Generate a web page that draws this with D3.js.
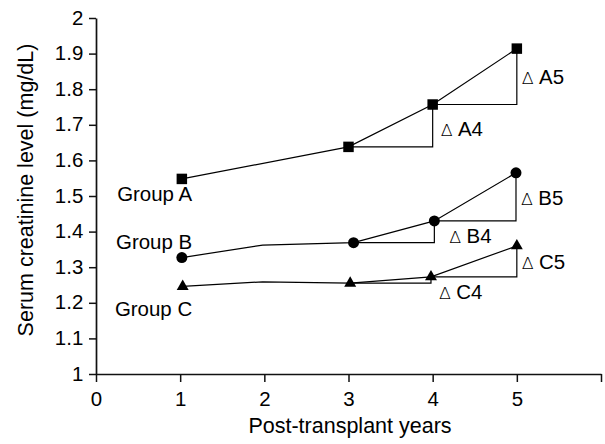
<!DOCTYPE html>
<html>
<head>
<meta charset="utf-8">
<script src="https://cdn.jsdelivr.net/npm/d3@7"></script>
<style>
  html, body { margin: 0; padding: 0; background: #fff; }
  svg { display: block; }
  text { font-family: "Liberation Sans", Arial, sans-serif; fill: #000; }
</style>
</head>
<body>
<script>
// Serum creatinine by post-transplant year, three groups
const years = [1, 2, 3, 4, 5];
const groupNames = ["Group A", "Group B", "Group C"];

// measured x position of each reading (years)
const xA = [1.02, 2, 3, 4, 5];
const xB = [1.02, 1.98, 3.06, 4.02, 4.99];
const xC = [1.03, 1.98, 3.02, 3.98, 5.0];

// mean serum creatinine (mg/dL); null where no reading is plotted
const valuesA = [1.548, null, 1.638, 1.757, 1.914];
const valuesB = [1.327, 1.362, 1.369, 1.430, 1.565];
const valuesC = [1.246, 1.259, 1.255, 1.273, 1.360];

// years that carry a marker
const markedYears = [1, 3, 4, 5];

// change labels for years 4 and 5
const deltaLabelsA = ["A4", "A5"];
const deltaLabelsB = ["B4", "B5"];
const deltaLabelsC = ["C4", "C5"];

const xTicks = [0, 1, 2, 3, 4, 5, 6];
const xTickLabels = ["0", "1", "2", "3", "4", "5", ""];
const yTicks = [1, 1.1, 1.2, 1.3, 1.4, 1.5, 1.6, 1.7, 1.8, 1.9, 2];
const yTickLabels = ["1", "1.1", "1.2", "1.3", "1.4", "1.5", "1.6", "1.7", "1.8", "1.9", "2"];

const W = 605, H = 444;
const svg = d3.select("body").append("svg").attr("width", W).attr("height", H);

const x = d3.scaleLinear().domain([0, 6]).range([96, 601]);
const y = d3.scaleLinear().domain([1, 2]).range([374, 18]);

const labelFont = 19.3;
const stretch = "scale(1.06,1)";

// axes
const yAxis = svg.append("g")
  .attr("transform", `translate(${x(0)},0)`)
  .call(d3.axisLeft(y).tickValues(yTicks).tickFormat((d, i) => yTickLabels[i])
    .tickSize(7).tickPadding(5).tickSizeOuter(0));
const xAxis = svg.append("g")
  .attr("transform", `translate(0,${y(1)})`)
  .call(d3.axisBottom(x).tickValues(xTicks).tickFormat((d, i) => xTickLabels[i])
    .tickSize(8).tickPadding(10).tickSizeOuter(0));

[yAxis, xAxis].forEach(g => {
  g.select(".domain").attr("stroke", "#111").attr("stroke-width", 1.7);
  g.selectAll(".tick line").attr("stroke", "#111").attr("stroke-width", 1.5);
  g.selectAll(".tick text")
    .attr("font-family", "'Liberation Sans', Arial, sans-serif")
    .attr("font-size", labelFont).attr("fill", "#000")
    .attr("transform", stretch);
});

// axis titles
svg.append("text")
  .attr("transform", `translate(33,190) rotate(-90)`)
  .attr("text-anchor", "middle").attr("font-size", 21.5)
  .text("Serum creatinine level (mg/dL)");
svg.append("text")
  .attr("x", 350).attr("y", 433)
  .attr("text-anchor", "middle").attr("font-size", 21.5)
  .text("Post-transplant years");

const series = [
  { name: groupNames[0], xs: xA, vals: valuesA, shape: d3.symbolSquare, size: 110, deltas: deltaLabelsA, labelDy: 22 },
  { name: groupNames[1], xs: xB, vals: valuesB, shape: d3.symbolCircle, size: 95, deltas: deltaLabelsB, labelDy: -8.5 },
  { name: groupNames[2], xs: xC, vals: valuesC, shape: d3.symbolTriangle, size: 62, deltas: deltaLabelsC, labelDy: 29.5 }
];

const line = d3.line().x(d => x(d.x)).y(d => y(d.v));

// label placement for the year-4 and year-5 change labels (px offsets)
const deltaPlacement = {
  A4: { dx: 8, anchor: "mid", dy: 3 },
  A5: { dx: 5, anchor: "mid", dy: 0 },
  B4: { dx: 15, anchor: "prev", dy: -7 },
  B5: { dx: 5, anchor: "mid", dy: 1 },
  C4: { dx: 8, anchor: "prev", dy: 9 },
  C5: { dx: 5, anchor: "mid", dy: 1 }
};

series.forEach(s => {
  const pts = years.map((yr, i) => ({ year: yr, x: s.xs[i], v: s.vals[i] }))
    .filter(p => p.v !== null);
  const byYear = yr => pts.find(p => p.year === yr);

  // change triangles: horizontal at previous level, vertical up to the new level
  [4, 5].forEach((yr, k) => {
    const prev = byYear(yr - 1), cur = byYear(yr);
    svg.append("path")
      .attr("d", `M${x(prev.x)},${y(prev.v)}H${x(cur.x)}V${y(cur.v)}`)
      .attr("fill", "none").attr("stroke", "#000").attr("stroke-width", 1.2);

    const key = s.deltas[k];
    const pl = deltaPlacement[key];
    const cy = pl.anchor === "mid" ? (y(prev.v) + y(cur.v)) / 2 : y(prev.v);
    const t = svg.append("text")
      .attr("transform", `translate(${x(cur.x) + pl.dx},${cy + pl.dy}) ${stretch}`)
      .attr("dy", "0.36em")
      .attr("font-size", labelFont);
    t.append("tspan").attr("font-family", "'DejaVu Sans', sans-serif")
      .attr("font-weight", 200).attr("font-size", 16.5).text("Δ");
    t.append("tspan").attr("dx", 5).text(key);
  });

  // data line
  svg.append("path")
    .attr("d", line(pts))
    .attr("fill", "none").attr("stroke", "#000").attr("stroke-width", 1.2);

  // markers
  svg.selectAll(null)
    .data(pts.filter(p => markedYears.includes(p.year)))
    .join("path")
    .attr("transform", p => `translate(${x(p.x)},${y(p.v)})`)
    .attr("d", d3.symbol().type(s.shape).size(s.size))
    .attr("fill", "#000");

  // group label
  const first = pts[0];
  svg.append("text")
    .attr("transform", `translate(${x(1) + 12},${y(first.v) + s.labelDy}) ${stretch}`)
    .attr("text-anchor", "end")
    .attr("font-size", labelFont)
    .text(s.name);
});
</script>
</body>
</html>
